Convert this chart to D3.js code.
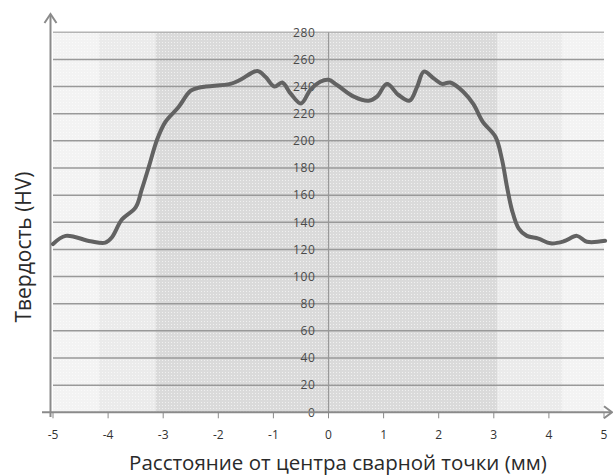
<!DOCTYPE html>
<html>
<head>
<meta charset="utf-8">
<script src="https://cdn.jsdelivr.net/npm/d3@7"></script>
<style>
  body { margin: 0; background: #fff; }
  text { font-family: "Open Sans", sans-serif; }
</style>
</head>
<body>
<script>
// hardness profile across the weld spot
const distance = [-5, -4.77, -4.32, -4.05, -3.93, -3.75, -3.5, -3.39, -3.26, -3.11, -2.96, -2.72,
  -2.5, -2.32, -1.78, -1.6, -1.29, -1.14, -0.98, -0.84, -0.69, -0.5, -0.33, -0.15, 0,
  0.16, 0.46, 0.73, 0.88, 1.06, 1.27, 1.47, 1.61, 1.73, 1.91, 2.06, 2.21, 2.45, 2.63,
  2.8, 3.03, 3.15, 3.24, 3.33, 3.45, 3.6, 3.81, 4.03, 4.27, 4.51, 4.69, 5.02]
const hardness = [124, 130, 126, 125, 129, 142, 151, 164, 181, 201, 214, 225,
  237, 239.5, 242, 245, 251.5, 247, 240, 243, 235, 227.5, 237.5, 243.6, 245,
  241, 232.6, 229.6, 232.6, 242, 233.8, 229.6, 240, 251, 246, 242, 243, 236, 227,
  214, 203, 186, 166, 149, 135.6, 130, 128, 124.5, 126, 130, 125.7, 126.4]

// shaded zones (edges in mm) and their fills
const zoneEdges = [-5, -4.17, -3.14, 3.07, 4.25, 5]
const zoneFills = ['#f3f3f3', '#ebebeb', '#dadada', '#ebebeb', '#f3f3f3']

const xTicks = [-5, -4, -3, -2, -1, 0, 1, 2, 3, 4, 5]
const yTicks = [0, 20, 40, 60, 80, 100, 120, 140, 160, 180, 200, 220, 240, 260, 280]

const w = 613
const h = 475

const svg = d3.select('body')
  .append('svg')
  .attr('width', w)
  .attr('height', h)

const xScale = d3.scaleLinear().domain([-5, 5]).range([53, 604])
const yScale = d3.scaleLinear().domain([0, 280]).range([412.3, 32.3])

// dotted texture for the zones
const defs = svg.append('defs')
zoneFills.forEach((c, i) => {
  const p = defs.append('pattern')
    .attr('id', 'zone' + i)
    .attr('width', 3)
    .attr('height', 3)
    .attr('patternUnits', 'userSpaceOnUse')
  p.append('rect').attr('width', 3).attr('height', 3).attr('fill', c)
  p.append('rect').attr('width', 1).attr('height', 1).attr('fill', '#ffffff').attr('opacity', 0.6)
})

svg.selectAll('rect.zone')
  .data(zoneFills)
  .enter()
  .append('rect')
  .attr('class', 'zone')
  .attr('x', (d, i) => xScale(zoneEdges[i]))
  .attr('width', (d, i) => xScale(zoneEdges[i + 1]) - xScale(zoneEdges[i]))
  .attr('y', yScale(280))
  .attr('height', yScale(0) - yScale(280))
  .attr('fill', (d, i) => `url(#zone${i})`)

// horizontal grid lines
svg.selectAll('line.grid')
  .data(yTicks.filter(d => d > 0))
  .enter()
  .append('line')
  .attr('class', 'grid')
  .attr('x1', xScale(-5))
  .attr('x2', xScale(5))
  .attr('y1', d => yScale(d))
  .attr('y2', d => yScale(d))
  .style('stroke', d => d === 280 ? '#b4b4b4' : '#999')
  .style('stroke-width', '1.5px')

// vertical zero line
svg.append('line')
  .attr('x1', xScale(0))
  .attr('x2', xScale(0))
  .attr('y1', yScale(280))
  .attr('y2', yScale(0))
  .style('stroke', '#999')
  .style('stroke-width', '1.2px')

// y tick labels, drawn on the zero line
svg.selectAll('text.ylab')
  .data(yTicks)
  .enter()
  .append('text')
  .attr('class', 'ylab')
  .attr('x', xScale(0) - 13)
  .attr('y', d => yScale(d))
  .attr('dy', '0.36em')
  .attr('text-anchor', 'end')
  .attr('font-size', 12)
  .attr('letter-spacing', 0.6)
  .attr('fill', '#4a4a4a')
  .text(d => d)

// x axis
const x0 = yScale(0)
svg.append('line')
  .attr('x1', 42)
  .attr('x2', 611)
  .attr('y1', x0)
  .attr('y2', x0)
  .style('stroke', '#8a8a8a')
  .style('stroke-width', '2px')

svg.append('path')
  .attr('d', `M${604},${x0 - 6} L${612},${x0} L${604},${x0 + 6}`)
  .style('fill', 'none')
  .style('stroke', '#8a8a8a')
  .style('stroke-width', '2px')

svg.selectAll('line.xtick')
  .data(xTicks)
  .enter()
  .append('line')
  .attr('class', 'xtick')
  .attr('x1', d => xScale(d))
  .attr('x2', d => xScale(d))
  .attr('y1', x0)
  .attr('y2', x0 + 6)
  .style('stroke', '#8a8a8a')
  .style('stroke-width', '1px')

svg.selectAll('text.xlab')
  .data(xTicks)
  .enter()
  .append('text')
  .attr('class', 'xlab')
  .attr('x', d => xScale(d))
  .attr('y', 439)
  .attr('text-anchor', 'middle')
  .attr('font-size', 12)
  .attr('fill', '#333')
  .text(d => d)

// y axis with arrow
const yAxisX = xScale(-5) - 2.5
svg.append('line')
  .attr('x1', yAxisX)
  .attr('x2', yAxisX)
  .attr('y1', 417)
  .attr('y2', 15)
  .style('stroke', '#8a8a8a')
  .style('stroke-width', '2px')

svg.append('path')
  .attr('d', `M${yAxisX - 6},${23} L${yAxisX},${14} L${yAxisX + 6},${23}`)
  .style('fill', 'none')
  .style('stroke', '#8a8a8a')
  .style('stroke-width', '2px')

// hardness curve
const line = d3.line()
  .x((d, i) => xScale(distance[i]))
  .y(d => yScale(d))
  .curve(d3.curveCatmullRom.alpha(0.5))

svg.append('path')
  .datum(hardness)
  .attr('d', line)
  .style('fill', 'none')
  .style('stroke', '#626262')
  .style('stroke-width', '4px')
  .style('stroke-linejoin', 'round')
  .style('stroke-linecap', 'round')

// axis titles
svg.append('text')
  .attr('transform', 'translate(31,247) rotate(-90)')
  .attr('text-anchor', 'middle')
  .attr('font-size', 21)
  .attr('fill', '#2a2a2a')
  .text('Твердость (HV)')

svg.append('text')
  .attr('x', 338)
  .attr('y', 470)
  .attr('text-anchor', 'middle')
  .attr('font-size', 20.5)
  .attr('fill', '#2a2a2a')
  .text('Расстояние от центра сварной точки (мм)')
</script>
</body>
</html>
